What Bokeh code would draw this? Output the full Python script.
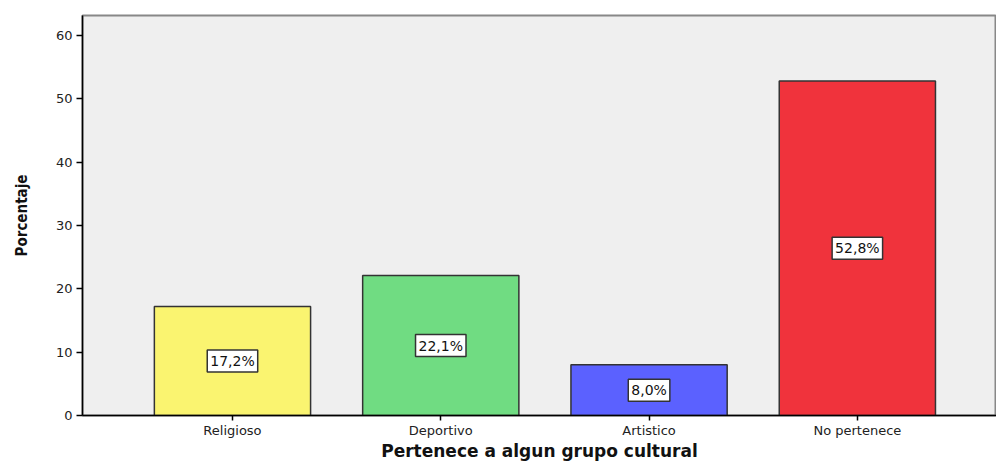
from bokeh.plotting import figure
from bokeh.models import ColumnDataSource, FixedTicker, Range1d
from bokeh.core.properties import value
from bokeh.embed import file_html
from bokeh.resources import INLINE

categories = ["Religioso", "Deportivo", "Artistico", "No pertenece"]
values = [17.2, 22.1, 8.0, 52.8]
colors = ["#FAF470", "#70DC82", "#5B61FF", "#F0333C"]
y_ticks = [0, 10, 20, 30, 40, 50, 60]
x_title = "Pertenece a algun grupo cultural"
y_title = "Porcentaje"

xs = list(range(len(categories)))
labels = [f"{v:.1f}%".replace(".", ",") for v in values]
src = ColumnDataSource(dict(x=xs, top=values, mid=[v / 2 for v in values],
                            color=colors, label=labels))

p = figure(width=996, height=463, output_backend="svg", toolbar_location=None,
           x_range=Range1d(-0.72, 3.668), y_range=Range1d(0, 63.16),
           min_border_left=82, min_border_top=15, min_border_bottom=48,
           min_border_right=0)
p.background_fill_color = "#EFEFEF"
p.border_fill_color = "white"
p.outline_line_color = "#888888"
p.outline_line_width = 2
p.grid.visible = False

p.vbar(x="x", top="top", width=0.75, bottom=0, source=src, fill_color="color",
       line_color="#333333", line_width=1.5)

p.text(x="x", y="mid", text="label", source=src, text_align="center",
       text_baseline="middle", text_font=value("DejaVu Sans"), text_font_size="14px",
       text_color="#111111", background_fill_color="white",
       border_line_color="#333333", border_line_width=1.5, padding=3)

p.xaxis.ticker = FixedTicker(ticks=xs)
p.xaxis.major_label_overrides = {i: c for i, c in enumerate(categories)}
p.yaxis.ticker = FixedTicker(ticks=y_ticks)
for ax in (p.xaxis[0], p.yaxis[0]):
    ax.axis_line_color = "black"
    ax.axis_line_width = 1.5
    ax.major_tick_line_color = "black"
    ax.major_tick_line_width = 1.5
    ax.major_tick_in = 0
    ax.major_tick_out = 6
    ax.minor_tick_line_color = None
    ax.major_label_text_font = "DejaVu Sans"
    ax.major_label_text_font_size = "13px"
    ax.major_label_text_color = "#222222"

p.xaxis.major_tick_out = 5
p.xaxis.axis_label = x_title
p.xaxis.axis_label_text_font = "DejaVu Sans"
p.xaxis.axis_label_text_font_style = "bold"
p.xaxis.axis_label_text_font_size = "17px"
p.xaxis.axis_label_text_color = "#111111"
p.xaxis.axis_label_standoff = 0
p.xaxis.major_label_standoff = 2

p.yaxis.axis_label = y_title
p.yaxis.axis_label_text_font = "DejaVu Sans Condensed"
p.yaxis.axis_label_text_font_style = "bold"
p.yaxis.axis_label_text_font_size = "15px"
p.yaxis.axis_label_text_color = "#111111"
p.yaxis.axis_label_standoff = 22
p.yaxis.major_label_standoff = 4

open("out.html", "w").write(file_html(p, INLINE))
